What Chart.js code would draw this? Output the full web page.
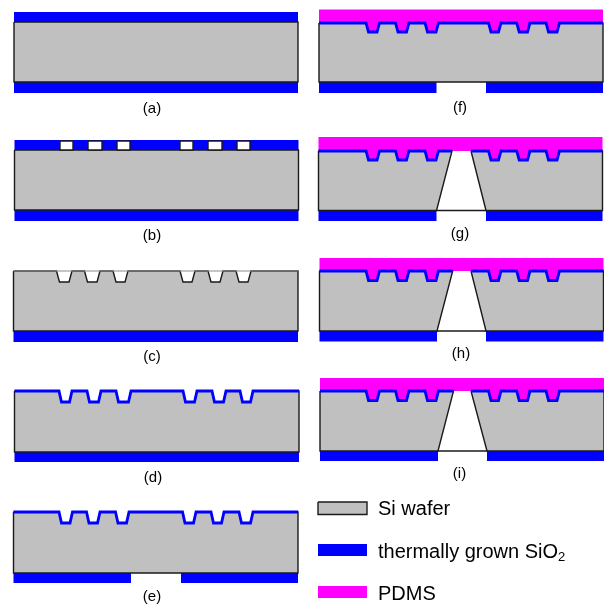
<!DOCTYPE html>
<html>
<head>
<meta charset="utf-8">
<title>Process flow</title>
<script src="https://cdn.jsdelivr.net/npm/chart.js@4"></script>
<style>
  html, body { margin: 0; padding: 0; background: #fff; }
  canvas { display: block; }
</style>
</head>
<body>
<canvas id="chart" width="604" height="604"></canvas>
<script>
// one entry per step (a) to (i)
const panelNames = ['(a)', '(b)', '(c)', '(d)', '(e)', '(f)', '(g)', '(h)', '(i)'];
const labelX = [152, 152, 152, 153, 152, 460, 460, 461, 459.5];
const labelY = [109, 236, 357, 478, 597, 108, 234, 354, 474];
const waferLeft = [14, 14.5, 13.5, 14.5, 13.5, 319, 318.5, 319.5, 320];
const waferRight = [298, 298.5, 298, 299, 298, 603, 602.5, 603.5, 604];
const waferTop = [22, 150, 271, 391, 512, 23, 151, 271, 391];
const waferBottom = [82, 210, 331, 452, 573, 82, 210.5, 331, 451];
const frontOxideTop = [12, 140, null, null, null, null, null, null, null];
const backOxideBottom = [93, 221, 342, 462, 583, 93, 221, 341.5, 461];
const backGapLeft = [null, null, null, null, 131, 436.5, 436.5, 437, 438];
const backGapRight = [null, null, null, null, 181, 486, 486, 486, 487];
const pdmsTop = [null, null, null, null, null, 9.5, 137, 258, 378];
const holeTopLeft = [null, null, null, null, null, null, 452, 452.7, 453.5];
const holeTopRight = [null, null, null, null, null, null, 471, 471, 471];
const trenchBottom = [null, null, 282, 402, 523, 32, 160, 280.5, 400.5];
const hasBlueLine = [false, false, false, true, true, true, true, true, true];

// trench edges at the wafer surface
const trenchLeftC = [56.5, 84.5, 113, 180, 208, 236];
const trenchRightC = [72, 100, 128, 195, 223, 251];
const trenchLeftD = [59, 87, 116, 183, 212, 240];
const trenchRightD = [72, 101, 131, 197, 226, 253];
const trenchLeftE = [59, 86.5, 115.5, 182.5, 211, 239];
const trenchRightE = [72.5, 100, 129, 196, 224, 253];
const trenchLeftF = [366, 395.5, 425, 488.5, 516.7, 546];
const trenchRightF = [379.5, 409, 438.5, 501, 530, 559.5];
const trenchLefts = [null, null, trenchLeftC, trenchLeftD, trenchLeftE, trenchLeftF, trenchLeftF, trenchLeftF, trenchLeftF];
const trenchRights = [null, null, trenchRightC, trenchRightD, trenchRightE, trenchRightF, trenchRightF, trenchRightF, trenchRightF];
const trenchTaper = [0, 0, 3, 2.5, 2.5, 2.5, 2.5, 2.5, 2.5];

// openings in the oxide of step (b)
const maskLeft = [60, 88, 117, 180, 208, 237];
const maskRight = [73, 102, 130, 193, 222, 250];
const maskTop = 141;

// legend
const legendNames = ['Si wafer', 'thermally grown SiO', 'PDMS'];
const legendTops = [502, 544, 586];
const legendBottoms = [514.5, 556, 598];
const legendLeft = 318;
const legendRight = 367;
const legendTextX = 378;
const legendTextY = [515, 558, 600];
const legendSubscript = '2';

const GRAY = '#c0c0c0';
const BLUE = '#0000ff';
const MAGENTA = '#ff00ff';
const BLACK = '#1a1a1a';

const datasets = [];

function addShape(points, fillColor, lineColor, lineWidth) {
  datasets.push({
    data: points,
    showLine: true,
    tension: 0,
    pointRadius: 0,
    fill: fillColor ? 'shape' : false,
    backgroundColor: fillColor || 'transparent',
    borderColor: lineColor || 'transparent',
    borderWidth: lineWidth || 0,
    borderJoinStyle: 'miter'
  });
}

function rect(x0, y0, x1, y1) {
  return [{x: x0, y: y0}, {x: x1, y: y0}, {x: x1, y: y1}, {x: x0, y: y1}, {x: x0, y: y0}];
}

// wafer surface between two x positions, following the trenches
function surface(i, fromX, toX) {
  const y = waferTop[i];
  const points = [{x: fromX, y: y}];
  const lefts = trenchLefts[i] || [];
  const rights = trenchRights[i] || [];
  lefts.forEach((left, t) => {
    if (left < fromX || rights[t] > toX) return;
    points.push({x: left, y: y});
    points.push({x: left + trenchTaper[i], y: trenchBottom[i]});
    points.push({x: rights[t] - trenchTaper[i], y: trenchBottom[i]});
    points.push({x: rights[t], y: y});
  });
  points.push({x: toX, y: y});
  return points;
}

function drawPanel(i) {
  const left = waferLeft[i];
  const right = waferRight[i];
  const top = waferTop[i];
  const bottom = waferBottom[i];
  const hole = holeTopLeft[i] !== null;

  // back oxide
  if (backGapLeft[i] === null) {
    addShape(rect(left, bottom, right, backOxideBottom[i]), BLUE);
  } else {
    addShape(rect(left, bottom, backGapLeft[i], backOxideBottom[i]), BLUE);
    addShape(rect(backGapRight[i], bottom, right, backOxideBottom[i]), BLUE);
  }

  // front oxide of (a), (b)
  if (frontOxideTop[i] !== null) {
    addShape(rect(left, frontOxideTop[i], right, top), BLUE);
  }

  // PDMS sits on the surface and bridges the hole
  if (pdmsTop[i] !== null) {
    const under = hole
      ? surface(i, left, holeTopLeft[i]).concat(surface(i, holeTopRight[i], right))
      : surface(i, left, right);
    addShape([{x: left, y: pdmsTop[i]}].concat(under, [{x: right, y: pdmsTop[i]}, {x: left, y: pdmsTop[i]}]), MAGENTA);
  }

  // wafer body
  if (hole) {
    const leftPart = surface(i, left, holeTopLeft[i]);
    addShape(leftPart.concat([{x: backGapLeft[i], y: bottom}, {x: left, y: bottom}, {x: left, y: top}]), GRAY, BLACK, 1.4);
    const rightPart = surface(i, holeTopRight[i], right);
    addShape(rightPart.concat([{x: right, y: bottom}, {x: backGapRight[i], y: bottom}, {x: holeTopRight[i], y: top}]), GRAY, BLACK, 1.4);
    addShape([{x: backGapLeft[i], y: bottom}, {x: backGapRight[i], y: bottom}], null, BLACK, 1.4);
  } else {
    addShape(surface(i, left, right).concat([{x: right, y: bottom}, {x: left, y: bottom}, {x: left, y: top}]), GRAY, BLACK, 1.4);
  }

  // conformal oxide line
  if (hasBlueLine[i]) {
    if (hole) {
      addShape(surface(i, left, holeTopLeft[i]), null, BLUE, 2.8);
      addShape(surface(i, holeTopRight[i], right), null, BLUE, 2.8);
    } else {
      addShape(surface(i, left, right), null, BLUE, 2.8);
    }
  }
}

panelNames.forEach((name, i) => drawPanel(i));

// faint edge left across the open trenches of (c)
addShape([{x: waferLeft[2], y: waferTop[2]}, {x: waferRight[2], y: waferTop[2]}], null, '#8c8c8c', 1);

// white windows of (b)
maskLeft.forEach((left, m) => {
  addShape(rect(left, maskTop, maskRight[m], waferTop[1]), '#ffffff', BLACK, 1.4);
});

// legend swatches
addShape(rect(legendLeft, legendTops[0], legendRight, legendBottoms[0]), GRAY, BLACK, 1.4);
addShape(rect(legendLeft, legendTops[1], legendRight, legendBottoms[1]), BLUE);
addShape(rect(legendLeft, legendTops[2], legendRight, legendBottoms[2]), MAGENTA);

// captions and legend text
const textPlugin = {
  id: 'diagramText',
  afterDraw(c) {
    const ctx = c.ctx;
    const xs = c.scales.x;
    const ys = c.scales.y;
    ctx.save();
    ctx.fillStyle = '#000';
    ctx.textBaseline = 'middle';
    ctx.textAlign = 'center';
    ctx.font = '15px "Liberation Sans"';
    panelNames.forEach((name, i) => {
      ctx.fillText(name, xs.getPixelForValue(labelX[i]), ys.getPixelForValue(labelY[i]));
    });
    ctx.textBaseline = 'alphabetic';
    ctx.textAlign = 'left';
    ctx.font = '20px "Liberation Sans"';
    legendNames.forEach((name, i) => {
      ctx.fillText(name, xs.getPixelForValue(legendTextX), ys.getPixelForValue(legendTextY[i]));
    });
    const subX = xs.getPixelForValue(legendTextX) + ctx.measureText(legendNames[1]).width;
    ctx.font = '13px "Liberation Sans"';
    ctx.fillText(legendSubscript, subX, ys.getPixelForValue(legendTextY[1] + 3));
    ctx.restore();
  }
};

// first dataset is painted last in Chart.js, so flip the paint order
new Chart(document.getElementById('chart').getContext('2d'), {
  type: 'scatter',
  data: {datasets: datasets.reverse()},
  options: {
    responsive: false,
    animation: false,
    layout: {padding: 0},
    plugins: {legend: {display: false}, tooltip: {enabled: false}},
    scales: {
      x: {type: 'linear', min: 0, max: 604, display: false},
      y: {type: 'linear', min: 0, max: 604, reverse: true, display: false}
    }
  },
  plugins: [textPlugin]
});
</script>
</body>
</html>
